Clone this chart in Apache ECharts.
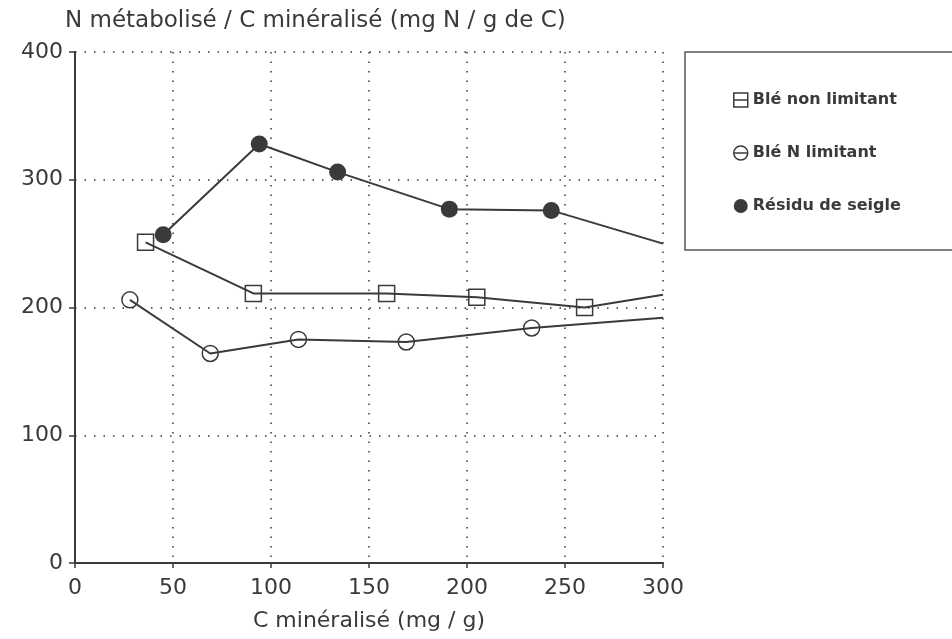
<!DOCTYPE html>
<html>
<head>
<meta charset="utf-8">
<script src="https://cdn.jsdelivr.net/npm/echarts@6/dist/echarts.min.js"></script>
<style>
  html, body { margin: 0; padding: 0; background: #fff; }
  #chart { width: 952px; height: 639px; }
</style>
</head>
<body>
<div id="chart"></div>
<script>
// Nitrogen metabolised per unit of mineralised carbon, three treatments.
// Each series ends with an unmarked point at x = 300 (edge of the plot).
const xTicks = [0, 50, 100, 150, 200, 250, 300];
const yTicks = [0, 100, 200, 300, 400];

const bleNonLimitantX = [36, 91, 159, 205, 260, 300];
const bleNonLimitantY = [251, 211, 211, 208, 200, 210];

const bleNLimitantX = [28, 69, 114, 169, 233, 300];
const bleNLimitantY = [206, 164, 175, 173, 184, 192];

const residuSeigleX = [45, 94, 134, 191, 243, 300];
const residuSeigleY = [257, 328, 306, 277, 276, 250];

const seriesNames = ['Blé non limitant', 'Blé N limitant', 'Résidu de seigle'];

const ink = '#3a3a3a';
const font = 'DejaVu Sans';

function pairs(xs, ys) {
  return xs.map((x, i) => {
    const p = { value: [x, ys[i]] };
    if (i === xs.length - 1) p.symbol = 'none';
    return p;
  });
}

const squareIcon = 'path://M0,0 L10,0 L10,10 L0,10 Z M0,5 L10,5';
const circleIcon = 'path://M0,5 A5,5 0 1,1 10,5 A5,5 0 1,1 0,5 Z M0,5 L10,5';

const chart = echarts.init(document.getElementById('chart'), null, { renderer: 'canvas' });
chart.setOption({
  animation: false,
  backgroundColor: '#fff',
  title: {
    text: 'N métabolisé / C minéralisé (mg N / g de C)',
    left: 60, top: 5,
    textStyle: { fontFamily: font, fontSize: 23, fontWeight: 'normal', color: ink }
  },
  grid: { left: 75, right: 289, top: 52, bottom: 76 },
  graphic: [{
    type: 'rect',
    shape: { x: 685, y: 52, width: 300, height: 198 },
    style: { fill: 'none', stroke: '#555', lineWidth: 1.5 },
    silent: true
  }],
  legend: {
    orient: 'vertical',
    left: 728, top: 87,
    itemGap: 37,
    itemWidth: 14, itemHeight: 14,
    textStyle: { fontFamily: font, fontSize: 16, fontWeight: 'bold', color: ink },
    data: [
      { name: seriesNames[0], icon: squareIcon,
        itemStyle: { color: 'rgba(0,0,0,0)', borderColor: ink, borderWidth: 1.5 } },
      { name: seriesNames[1], icon: circleIcon,
        itemStyle: { color: 'rgba(0,0,0,0)', borderColor: ink, borderWidth: 1.5 } },
      { name: seriesNames[2], icon: 'circle',
        itemStyle: { color: ink, borderWidth: 0 } }
    ]
  },
  xAxis: {
    type: 'value', min: xTicks[0], max: xTicks[xTicks.length - 1], interval: 50,
    name: 'C minéralisé (mg / g)',
    nameLocation: 'middle', nameGap: 47,
    nameTextStyle: { fontFamily: font, fontSize: 22, color: ink },
    axisLine: { show: true, lineStyle: { color: ink, width: 2 } },
    axisTick: { show: true, length: 5, lineStyle: { color: ink, width: 1.5 } },
    axisLabel: { fontFamily: font, fontSize: 22, color: ink, margin: 14 },
    splitLine: { show: true, lineStyle: { type: [1.5, 8], color: '#333', width: 1.5 } }
  },
  yAxis: {
    type: 'value', min: yTicks[0], max: yTicks[yTicks.length - 1], interval: 100,
    axisLine: { show: true, lineStyle: { color: ink, width: 2 } },
    axisTick: { show: true, length: 6, lineStyle: { color: ink, width: 1.5 } },
    axisLabel: { fontFamily: font, fontSize: 22, color: ink, margin: 12 },
    splitLine: { show: true, lineStyle: { type: [1.5, 8], color: '#333', width: 1.5 } }
  },
  series: [
    {
      name: seriesNames[0], type: 'line', clip: true,
      data: pairs(bleNonLimitantX, bleNonLimitantY),
      symbol: 'rect', symbolSize: 16,
      lineStyle: { color: ink, width: 2 },
      itemStyle: { color: 'rgba(0,0,0,0)', borderColor: ink, borderWidth: 1.5 }
    },
    {
      name: seriesNames[1], type: 'line', clip: true,
      data: pairs(bleNLimitantX, bleNLimitantY),
      symbol: 'circle', symbolSize: 16,
      lineStyle: { color: ink, width: 2 },
      itemStyle: { color: 'rgba(0,0,0,0)', borderColor: ink, borderWidth: 1.5 }
    },
    {
      name: seriesNames[2], type: 'line', clip: true,
      data: pairs(residuSeigleX, residuSeigleY),
      symbol: 'circle', symbolSize: 17,
      lineStyle: { color: ink, width: 2 },
      itemStyle: { color: ink, borderWidth: 0 }
    }
  ]
});
</script>
</body>
</html>
